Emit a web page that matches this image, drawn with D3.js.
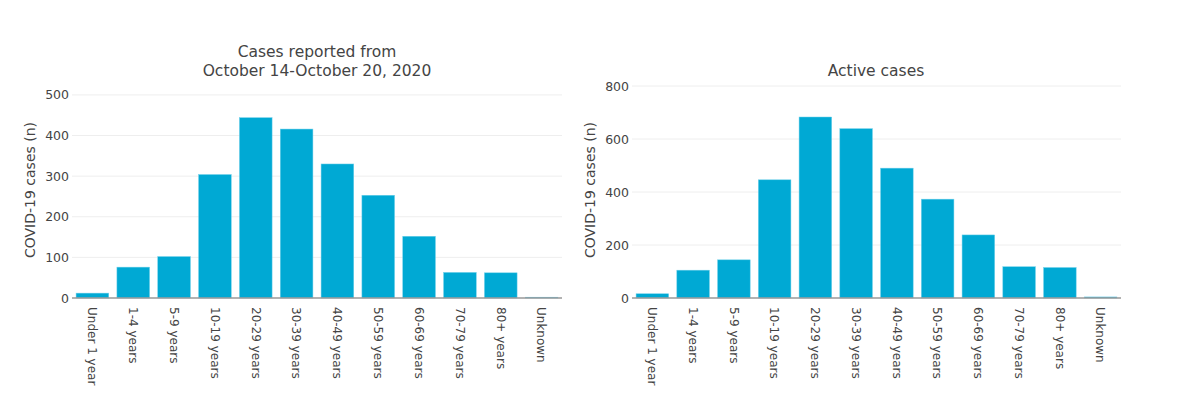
<!DOCTYPE html>
<html>
<head>
<meta charset="utf-8">
<script src="https://cdn.jsdelivr.net/npm/d3@7"></script>
<style>
  body { margin: 0; background: #fff; }
  text { font-family: "DejaVu Sans", Verdana, sans-serif; fill: #444; }
</style>
</head>
<body>
<div id="canvas-div"></div>
<script>
const ageGroups = ['Under 1 year', '1-4 years', '5-9 years', '10-19 years', '20-29 years', '30-39 years',
                   '40-49 years', '50-59 years', '60-69 years', '70-79 years', '80+ years', 'Unknown'];
const weeklyCases = [12, 76, 102, 304, 444, 416, 330, 253, 152, 63, 62, 2];
const activeCases = [16, 105, 144, 446, 683, 639, 490, 373, 238, 118, 115, 4];
const weeklyTicks = [0, 100, 200, 300, 400, 500];
const activeTicks = [0, 200, 400, 600, 800];

const w = 1200;
const h = 408;
const plotTop = 86, plotBottom = 298;

const svg = d3.select('#canvas-div').append('svg').attr('width', w).attr('height', h);

const drawChart = (values, ticks, yMax, titleLines, left, right, titleX) => {
    const g = svg.append('g');

    const xScale = d3.scaleBand().domain(ageGroups).range([left, right]).paddingInner(0.2).paddingOuter(0.1);
    const yScale = d3.scaleLinear().domain([0, yMax]).range([plotBottom, plotTop]);

    // gridlines
    g.selectAll('.grid')
     .data(ticks.slice(1))
     .enter()
     .append('line')
     .attr('x1', left)
     .attr('x2', right)
     .attr('y1', d => yScale(d))
     .attr('y2', d => yScale(d))
     .attr('stroke', '#eee')
     .attr('stroke-width', 1);

    g.selectAll('rect')
     .data(values)
     .enter()
     .append('rect')
     .attr('x', (d, i) => xScale(ageGroups[i]))
     .attr('width', xScale.bandwidth())
     .attr('y', d => yScale(d))
     .attr('height', d => plotBottom - yScale(d))
     .attr('fill', '#00a9d4')
     .attr('stroke', '#6fd0ea')
     .attr('stroke-width', 0.5);

    // zero line
    g.append('line')
     .attr('x1', left)
     .attr('x2', right)
     .attr('y1', plotBottom)
     .attr('y2', plotBottom)
     .attr('stroke', '#999')
     .attr('stroke-width', 1.5);

    const yAxis = d3.axisLeft(yScale).tickValues(ticks).tickSize(0).tickPadding(3);
    const ya = g.append('g').attr('transform', `translate(${left}, 0)`).call(yAxis);
    ya.select('.domain').remove();
    ya.selectAll('text').attr('font-size', 12.5).style('fill', '#444').attr('font-family', '"DejaVu Sans", Verdana, sans-serif');

    const xAxis = d3.axisBottom(xScale).tickSize(0).tickPadding(0);
    const xa = g.append('g').attr('transform', `translate(0, ${plotBottom})`).call(xAxis);
    xa.select('.domain').remove();
    xa.selectAll('text')
      .attr('font-size', 12)
      .attr('font-family', '"DejaVu Sans", Verdana, sans-serif')
      .style('fill', '#444')
      .attr('text-anchor', 'start')
      .attr('transform', 'rotate(90)')
      .attr('x', 9)
      .attr('y', 0)
      .attr('dy', '0.35em');

    g.append('text')
     .attr('transform', `translate(${left - 42}, ${(plotTop + plotBottom) / 2 - 2}) rotate(-90)`)
     .attr('text-anchor', 'middle')
     .attr('dy', '0.35em')
     .attr('font-size', 14)
     .text('COVID-19 cases (n)');

    const t = g.append('text')
               .attr('text-anchor', 'middle')
               .attr('font-size', 15.5);
    titleLines.forEach((line, i) => {
        t.append('tspan')
         .attr('x', titleX)
         .attr('y', 76 - (titleLines.length - 1 - i) * 19)
         .text(line);
    });
};

drawChart(weeklyCases, weeklyTicks, 522, ['Cases reported from', 'October 14-October 20, 2020'], 72, 562, 317);
drawChart(activeCases, activeTicks, 800, ['Active cases'], 632, 1121, 876);
</script>
</body>
</html>
